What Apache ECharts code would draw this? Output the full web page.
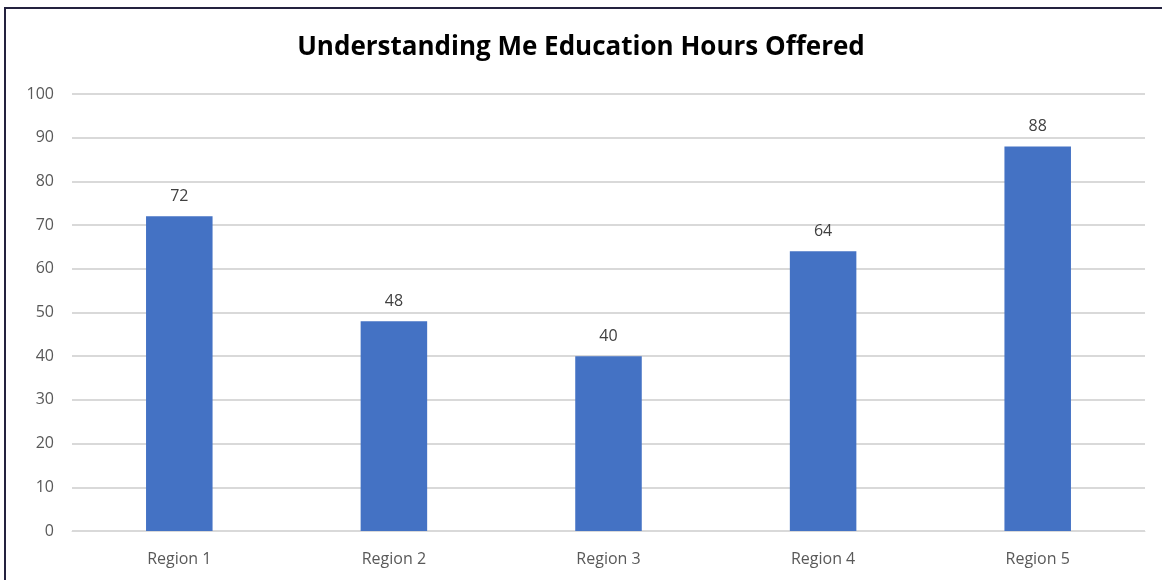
<!DOCTYPE html>
<html>
<head>
<meta charset="utf-8">
<script src="https://cdn.jsdelivr.net/npm/echarts@6/dist/echarts.min.js"></script>
<style>
  html, body { margin: 0; padding: 0; background: #fff; }
  #chartBox { position: absolute; left: 0; top: 0; width: 1162px; height: 580px; }
  #frame {
    position: absolute; left: 4px; top: 7px; width: 1200px; height: 600px;
    border-left: 2px solid #24223f; border-top: 2px solid #24223f;
    pointer-events: none;
  }
</style>
</head>
<body>
<div id="chartBox"></div>
<div id="frame"></div>
<script>
const categories = ["Region 1", "Region 2", "Region 3", "Region 4", "Region 5"];
const hours = [72, 48, 40, 64, 88];

const chart = echarts.init(document.getElementById("chartBox"));
chart.setOption({
  backgroundColor: "#fff",
  animation: false,
  title: {
    text: "Understanding Me Education Hours Offered",
    left: "center",
    top: 30,
    textStyle: {
      color: "#000",
      fontFamily: "Open Sans",
      fontWeight: "bold",
      fontSize: 26,
    },
  },
  grid: {
    left: 72,
    right: 17,
    top: 94,
    bottom: 49,
  },
  xAxis: {
    type: "category",
    data: categories,
    axisLine: { lineStyle: { color: "#d9d9d9" } },
    axisTick: { show: false },
    axisLabel: {
      color: "#595959",
      fontFamily: "Open Sans",
      fontSize: 16,
      margin: 20,
    },
  },
  yAxis: {
    type: "value",
    min: 0,
    max: 100,
    interval: 10,
    axisLine: { show: false },
    axisTick: { show: false },
    axisLabel: {
      color: "#595959",
      fontFamily: "Open Sans",
      fontSize: 16,
      margin: 18,
    },
    splitLine: {
      lineStyle: { color: "#d9d9d9", width: 2 },
    },
  },
  series: [
    {
      type: "bar",
      data: hours,
      barWidth: "31%",
      itemStyle: { color: "#4472c4" },
      label: {
        show: true,
        position: "top",
        distance: 12,
        color: "#404040",
        fontFamily: "Open Sans",
        fontSize: 16,
      },
    },
  ],
});
</script>
</body>
</html>
